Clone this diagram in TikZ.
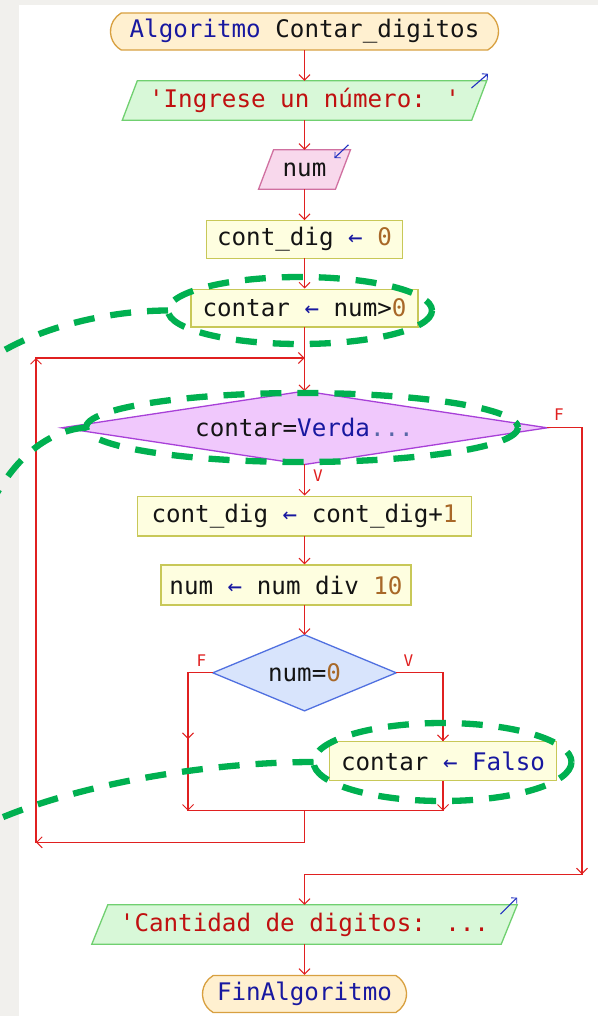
\documentclass[tikz,border=0pt]{standalone}
\usepackage{fontspec}
\newfontfamily\mono[Ligatures=TeXOff]{DejaVu Sans Mono}
\usetikzlibrary{arrows.meta,shapes.misc,calc}
\pgfdeclarelayer{back}
\pgfdeclarelayer{notes}
\pgfsetlayers{back,main,notes}

\definecolor{panelgray}{HTML}{F1F0ED}
\definecolor{ink}{HTML}{141414}
\definecolor{kw}{HTML}{1818A0}
\definecolor{strc}{HTML}{C01010}
\definecolor{numc}{HTML}{A86828}
\definecolor{dotc}{HTML}{5868A8}
\definecolor{termfill}{HTML}{FFF0D0}
\definecolor{termline}{HTML}{D8A040}
\definecolor{outfill}{HTML}{D8F8D8}
\definecolor{outline}{HTML}{70D070}
\definecolor{infill}{HTML}{F8D8EC}
\definecolor{inline}{HTML}{D070A0}
\definecolor{procfill}{HTML}{FEFEE0}
\definecolor{procline}{HTML}{C8C858}
\definecolor{loopfill}{HTML}{F0C8FC}
\definecolor{loopline}{HTML}{A840D8}
\definecolor{iffill}{HTML}{D8E4FC}
\definecolor{ifline}{HTML}{5070E0}
\definecolor{flowred}{HTML}{E02020}
\definecolor{notegreen}{RGB}{0,176,80}
\definecolor{sigblue}{HTML}{2030C0}

\tikzset{
  base/.style={font=\mono\fontsize{24.2}{28}\selectfont, text=ink, inner sep=0pt},
  term/.style={base, rounded rectangle, rounded rectangle arc length=120,
    draw=termline, fill=termfill, line width=1.3pt, minimum height=37pt},
  proc/.style={base, rectangle, draw=procline, fill=procfill, line width=1.3pt},
  io/.style={base, rectangle},
  cond/.style={base, rectangle},
  flow/.style={draw=flowred, line width=1.3pt, line cap=rect,
    -{Straight Barb[length=5.5pt,width=11pt,line width=1pt]}},
  link/.style={draw=flowred, line width=1.3pt, line cap=rect},
  tag/.style={font=\mono\fontsize{16}{16}\selectfont, text=flowred, inner sep=0pt},
  sig/.style={draw=sigblue, line width=1.1pt,
    -{Straight Barb[length=4pt,width=8pt,line width=0.9pt]}},
  note/.style={draw=notegreen, line width=6.3pt, dash pattern=on 21pt off 16pt},
}

% parallelogram behind an input/output node
\newcommand\ioshape[4]{%
  \begin{pgfonlayer}{back}
    \filldraw[fill=#3, draw=#4, line width=1.3pt]
      ($(#1.north west)+(#2,0)$) -- ($(#1.north east)+(#2,0)$) --
      ($(#1.south east)+(-#2,0)$) -- ($(#1.south west)+(-#2,0)$) -- cycle;
  \end{pgfonlayer}}
% diamond behind a decision node
\newcommand\condshape[3]{%
  \begin{pgfonlayer}{back}
    \filldraw[fill=#2, draw=#3, line width=1.3pt]
      (#1.north) -- (#1.east) -- (#1.south) -- (#1.west) -- cycle;
  \end{pgfonlayer}}

\begin{document}
\begin{tikzpicture}[x=1pt,y=-1pt]
\useasboundingbox (0,0) rectangle (598,1016);
\begin{pgfonlayer}{back}
  \fill[panelgray] (0,0) rectangle (598,1016);
  \fill[white] (19,5) rectangle (598,1016);
\end{pgfonlayer}

% ---- blocks ----
\node[term, minimum width=388pt] (start) at (304.5,31.5)
  {{\color{kw}Algoritmo} Contar\_digitos};
\node[io, minimum width=349pt, minimum height=39pt] (out1) at (304.5,100.5)
  {\color{strc}'Ingrese un número: '};
\ioshape{out1}{7.5}{outfill}{outline}
\node[io, minimum width=76.5pt, minimum height=39pt] (in1) at (304.5,169.5) {num};
\ioshape{in1}{7.5}{infill}{inline}
\node[proc, minimum width=196pt, minimum height=37.6pt] (box1) at (304.5,239.5)
  {cont\_dig {\color{kw}←} {\color{numc}0}};
\node[proc, minimum width=227pt, minimum height=37.7pt] (box2) at (304.5,308)
  {contar {\color{kw}←} num>{\color{numc}0}};
\node[cond, minimum width=485pt, minimum height=73pt] (dia1) at (304.5,427.8)
  {contar={\color{kw}Verda}{\color{dotc}...}};
\condshape{dia1}{loopfill}{loopline}
\node[proc, minimum width=334.5pt, minimum height=39.7pt] (box3) at (304.5,516)
  {cont\_dig {\color{kw}←} cont\_dig+{\color{numc}1}};
\node[proc, minimum width=250pt, minimum height=40pt] (box4) at (286,585)
  {num {\color{kw}←} num div {\color{numc}10}};
\node[cond, minimum width=183pt, minimum height=75.7pt] (dia2) at (304.5,672.8)
  {num={\color{numc}0}};
\condshape{dia2}{iffill}{ifline}
\node[proc, minimum width=227.6pt, minimum height=39pt] (box5) at (443,761.2)
  {contar {\color{kw}←} {\color{kw}Falso}};
\node[io, minimum width=409pt, minimum height=39pt] (out2) at (304.5,924.5)
  {\color{strc}'Cantidad de digitos: ...};
\ioshape{out2}{8}{outfill}{outline}
\node[term, minimum width=204pt] (stop) at (304.5,994)
  {\color{kw}FinAlgoritmo};

% ---- read / write markers ----
\draw[sig] ($(out1.north east)+(-7.8,7.3)$) -- ($(out1.north east)+(8.8,-7)$);
\draw[sig] ($(in1.north east)+(5.5,-5)$) -- ($(in1.north east)+(-8.5,8.3)$);
\draw[sig] ($(out2.north east)+(-8.7,9.3)$) -- ($(out2.north east)+(8,-7.3)$);

% ---- branch labels ----
\node[tag] (fa) at (559,415) {F};
\node[tag] (va) at (318,475.5) {V};
\node[tag] (fb) at (201.5,661) {F};
\node[tag] (vb) at (408.5,661) {V};

% ---- routing points ----
\coordinate (lt)  at (304.5,358);
\coordinate (ltl) at (36,358);
\coordinate (lbl) at (36,842.3);
\coordinate (lbj) at (304.5,842.3);
\coordinate (jm)  at (304.5,810.7);
\coordinate (jl)  at (188,810.7);
\coordinate (jr)  at (box5.south |- jl);
\coordinate (dl)  at (dia2.west -| jl);
\coordinate (dl2) at (188,739);
\coordinate (dr)  at (dia2.east -| box5.north);
\coordinate (fr1) at (582,427.8);
\coordinate (fr2) at (582,874.3);
\coordinate (fr3) at (out2.north |- fr2);

% ---- connectors ----
\draw[flow] (start.south) -- (out1.north);
\draw[flow] (out1.south) -- (in1.north);
\draw[flow] (in1.south) -- (box1.north);
\draw[flow] (box1.south) -- (box2.north);
\draw[flow] (box2.south) -- (dia1.north);
\draw[flow] (dia1.south) -- (box3.north);
\draw[flow] (box3.south) -- (box3.south |- box4.north);
\draw[flow] (dia2.north |- box4.south) -- (dia2.north);
\draw[flow] (dia2.west) -- (dl) -- (dl2);
\draw[flow] (dl2) -- (jl);
\draw[flow] (dia2.east) -- (dr) -- (box5.north);
\draw[flow] (box5.south) -- (jr);
\draw[link] (jl) -- (jr);
\draw[flow] (jm) -- (lbj) -- (lbl);
\draw[flow] (lbl) -- (ltl);
\draw[flow] (ltl) -- (lt);
\draw[flow] (dia1.east) -- (fr1) -- (fr2);
\draw[flow] (fr2) -- (fr3) -- (out2.north);
\draw[flow] (out2.south) -- (stop.north);

% ---- highlighted statements ----
\begin{pgfonlayer}{notes}
  \draw[note] (300,310.5) ellipse [x radius=132, y radius=33.5];
  \draw[note] (168,310.5) .. controls (120,310.5) and (50,322) .. (-4,355);
  \draw[note] (302,427.5) ellipse [x radius=216, y radius=34.5];
  \draw[note] (86,427.5) .. controls (65,429) and (28,440) .. (-3,493);
  \draw[note] (442.5,762) ellipse [x radius=129, y radius=39];
  \draw[note] (313.5,762) .. controls (220,762) and (90,780) .. (-4,820);
\end{pgfonlayer}
\end{tikzpicture}
\end{document}
